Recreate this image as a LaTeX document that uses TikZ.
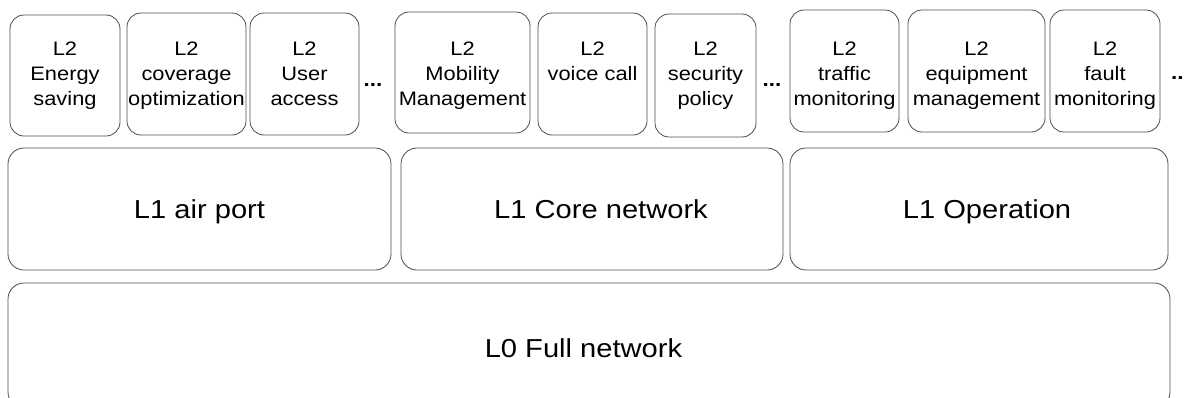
\documentclass[tikz,border=0pt]{standalone}
\usepackage{fontspec}
\setmainfont{Liberation Sans}[FakeStretch=1.12]
\begin{document}
\begin{tikzpicture}[x=1pt,y=-1pt,
  box/.style={draw=black!70, line width=0.8pt, rounded corners=#1},
  box/.default=15,
  ltwo/.style={anchor=north, inner sep=0pt, align=center, font=\fontsize{19.5}{25}\selectfont},
  lone/.style={anchor=base, inner sep=0pt, font=\fontsize{26}{30}\selectfont},
  dots/.style={anchor=base, inner sep=0pt, font=\bfseries\fontsize{20}{25}\selectfont}]
\path[use as bounding box, clip] (0,0) rectangle (1188,397);
% L2 boxes
\draw[box=14] (10,15) rectangle (120,136) coordinate (b1);
\draw[box=14] (127,13) rectangle (246,135) coordinate (b2);
\draw[box=14] (250,13) rectangle (359,135) coordinate (b3);
\draw[box=14] (395,12) rectangle (530,133) coordinate (b4);
\draw[box=14] (538,13) rectangle (647,135) coordinate (b5);
\draw[box=14] (655,14) rectangle (756,137) coordinate (b6);
\draw[box=14] (790,10) rectangle (899,132) coordinate (b7);
\draw[box=14] (908,10) rectangle (1045,132) coordinate (b8);
\draw[box=14] (1050,10) rectangle (1160,132) coordinate (b9);
\node[ltwo] (t1) at (65,41.7) {L2\\Energy\\saving};
\node[ltwo] (t2) at (186.5,41.7) {L2\\coverage\\optimization};
\node[ltwo] (t3) at (304.5,41.7) {L2\\User\\access};
\node[ltwo] (t4) at (462.5,41.7) {L2\\Mobility\\Management};
\node[ltwo] (t5) at (592.5,41.7) {L2\\voice call};
\node[ltwo] (t6) at (705.5,41.7) {L2\\security\\policy};
\node[ltwo] (t7) at (844.5,41.7) {L2\\traffic\\monitoring};
\node[ltwo] (t8) at (976.5,41.7) {L2\\equipment\\management};
\node[ltwo] (t9) at (1105,41.7) {L2\\fault\\monitoring};
\node[dots] (d1) at (373,86) {...};
\node[dots] (d2) at (772,86) {...};
\node[dots, anchor=base west] (d3) at (1171,79) {..};
% L1 boxes
\draw[box=16] (8,148) rectangle (391,270);
\draw[box=16] (401,148) rectangle (783,270);
\draw[box=16] (790,148) rectangle (1168,270);
\node[lone] (a1) at (199.5,218) {L1 air port};
\node[lone] (a2) at (601,218) {L1 Core network};
\node[lone] (a3) at (987,218) {L1 Operation};
% L0 box
\draw[box=16] (8,283) rectangle (1170,408);
\node[lone] (z0) at (583.5,357) {L0 Full network};
\end{tikzpicture}
\end{document}
